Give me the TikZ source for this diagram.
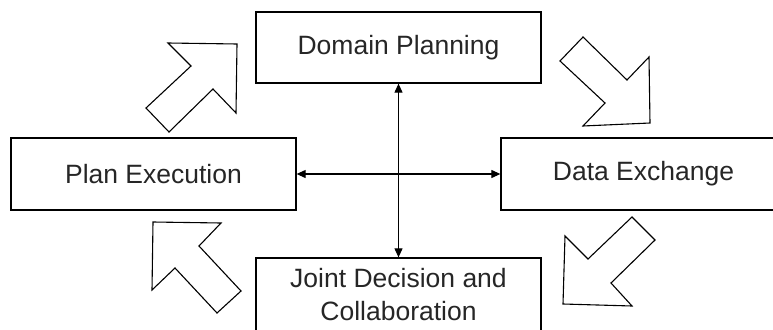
\documentclass[tikz,border=0pt]{standalone}
\usepackage{fontspec}
\setmainfont{Liberation Sans}
\usetikzlibrary{arrows.meta}
\begin{document}
\begin{tikzpicture}[x=1pt,y=-1pt,
  box/.style={draw=black,line width=1.3pt,rectangle,minimum width=285pt,minimum height=72pt,
    inner sep=0pt,align=center,font=\fontsize{26.5}{33}\selectfont,text=black!85},
  link/.style={line width=1.1pt,{Triangle[length=9pt,width=8pt]}-{Triangle[length=9pt,width=8pt]}},
  blockarrow/.style={draw=black,line width=1.1pt,fill=white,line join=miter}]
\useasboundingbox (0,0) rectangle (773,329);
\clip (0,0) rectangle (773,329);

% the four stage boxes
\node[box,minimum height=71pt] (dp) at (398.5,47.5) {Domain Planning};
\node[box] (pe) at (153.5,174) {Plan Execution};
\node[box] (de) at (643.5,174) {Data Exchange};
\node[box,minimum height=73pt] (jd) at (398.5,294.5) {Joint Decision and\\Collaboration};

% central two-way links
\draw[link] (dp.south) -- (jd.north);
\draw[link] (pe.east) -- (de.west);

% hollow block arrows showing the cycle
\draw[blockarrow] (168,43) -- (237,44) -- (236,113) -- (213,89) -- (169,132) -- (146,108) -- (191,66) -- cycle;
\draw[blockarrow] (583,37) -- (627,80) -- (649,57) -- (650,123) -- (583,126) -- (605,103) -- (560,61) -- cycle;
\draw[blockarrow] (632,217) -- (655,240) -- (611,283) -- (632,306) -- (563,304) -- (565,236) -- (588,259) -- cycle;
\draw[blockarrow] (153,222) -- (221,223) -- (199,246) -- (241,291) -- (217,313) -- (175,268) -- (152,290) -- cycle;
\end{tikzpicture}
\end{document}
